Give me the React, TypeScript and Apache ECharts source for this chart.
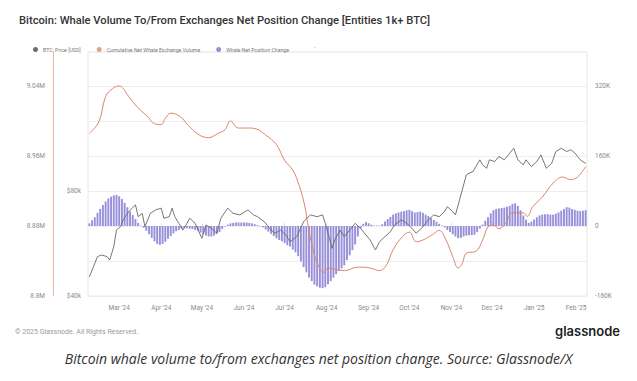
import React, { useEffect, useRef } from 'react';
import * as echarts from 'echarts';

const titleText = 'Bitcoin: Whale Volume To/From Exchanges Net Position Change [Entities 1k+ BTC]';
const footerText = '© 2025 Glassnode. All Rights Reserved.';
const brandText = 'glassnode';
const captionText = 'Bitcoin whale volume to/from exchanges net position change. Source: Glassnode/X';
const seriesNames = ['BTC: Price [USD]', 'Cumulative Net Whale Exchange Volume', 'Whale Net Position Change'];

const xMinDate = '2024-02-07';
const xMaxDate = '2025-02-09';
const xTickDates = ['2024-03-01', '2024-04-01', '2024-05-01', '2024-06-01', '2024-07-01', '2024-08-01', '2024-09-01', '2024-10-01', '2024-11-01', '2024-12-01', '2025-01-01', '2025-02-01'];
const xTickLabels = ["Mar '24", "Apr '24", "May '24", "Jun '24", "Jul '24", "Aug '24", "Sep '24", "Oct '24", "Nov '24", "Dec '24", "Jan '25", "Feb '25"];
const priceTickValues = [40000, 80000];
const priceTickLabels = ['$40k', '$80k'];

const priceDates = [
  '2024-02-08', '2024-02-11', '2024-02-14', '2024-02-17', '2024-02-21', '2024-02-23', '2024-02-26', '2024-02-28',
  '2024-03-02', '2024-03-04', '2024-03-08', '2024-03-13', '2024-03-15', '2024-03-18', '2024-03-20', '2024-03-24', '2024-03-28',
  '2024-04-01', '2024-04-03', '2024-04-07', '2024-04-09', '2024-04-11', '2024-04-14', '2024-04-17', '2024-04-20', '2024-04-22', '2024-04-26',
  '2024-05-01', '2024-05-04', '2024-05-08', '2024-05-12', '2024-05-15', '2024-05-20', '2024-05-24', '2024-05-29',
  '2024-06-04', '2024-06-08', '2024-06-11', '2024-06-16', '2024-06-21', '2024-06-24', '2024-06-28',
  '2024-07-02', '2024-07-05', '2024-07-10', '2024-07-15', '2024-07-20', '2024-07-25', '2024-07-29', '2024-07-31',
  '2024-08-02', '2024-08-05', '2024-08-07', '2024-08-11', '2024-08-14', '2024-08-18', '2024-08-22', '2024-08-26', '2024-08-29',
  '2024-09-02', '2024-09-06', '2024-09-09', '2024-09-13', '2024-09-17', '2024-09-20', '2024-09-25', '2024-09-29',
  '2024-10-03', '2024-10-06', '2024-10-10', '2024-10-15', '2024-10-19', '2024-10-23', '2024-10-27', '2024-10-29',
  '2024-11-02', '2024-11-04', '2024-11-07', '2024-11-09', '2024-11-12', '2024-11-14', '2024-11-17', '2024-11-19', '2024-11-22', '2024-11-24', '2024-11-27', '2024-11-29',
  '2024-12-03', '2024-12-06', '2024-12-10', '2024-12-14', '2024-12-17', '2024-12-20', '2024-12-24', '2024-12-26', '2024-12-30',
  '2025-01-03', '2025-01-06', '2025-01-10', '2025-01-14', '2025-01-17', '2025-01-21', '2025-01-25', '2025-01-28', '2025-01-31',
  '2025-02-02', '2025-02-04', '2025-02-06', '2025-02-08',
];
const priceValues = [
  45400, 48500, 51900, 52400, 51900, 50700, 55400, 61800,
  63200, 66100, 69800, 73000, 67500, 69000, 63200, 69000, 70600,
  71400, 66800, 67500, 71400, 67500, 64600, 61800, 64600, 66800, 64600,
  58500, 63900, 62500, 60500, 66800, 71400, 69000, 68300,
  70600, 68300, 67500, 65300, 61800, 60500, 61800,
  59800, 57200, 59200, 65300, 68300, 67500, 68300, 64600,
  60500, 54800, 57900, 61800, 59200, 61800, 64600, 62500, 60500,
  57900, 54200, 57200, 59200, 61100, 63900, 66100, 64600,
  62500, 60500, 62500, 66100, 68300, 67500, 69800, 72100,
  69800, 68300, 75400, 80500, 88900, 89900, 90900, 93900, 98200, 95000, 92900, 98200,
  97100, 100400, 98200, 102600, 106000, 98200, 95000, 98200, 93900,
  97100, 101500, 92900, 96000, 103700, 106000, 103700, 105000, 102800,
  100400, 98200, 97000, 96000,
];

const cumDates = [
  '2024-02-08', '2024-02-15', '2024-02-20', '2024-02-25', '2024-03-01', '2024-03-04', '2024-03-08', '2024-03-15', '2024-03-22', '2024-03-27',
  '2024-04-01', '2024-04-04', '2024-04-08', '2024-04-15', '2024-04-21', '2024-04-28',
  '2024-05-06', '2024-05-13', '2024-05-18', '2024-05-22', '2024-05-28',
  '2024-06-04', '2024-06-10', '2024-06-17', '2024-06-25',
  '2024-07-01', '2024-07-07', '2024-07-12', '2024-07-16', '2024-07-18', '2024-07-22', '2024-07-26', '2024-07-30',
  '2024-08-02', '2024-08-09', '2024-08-14', '2024-08-24',
  '2024-09-02', '2024-09-09', '2024-09-14', '2024-09-19', '2024-09-26',
  '2024-10-01', '2024-10-06', '2024-10-11', '2024-10-18', '2024-10-23', '2024-10-28',
  '2024-11-02', '2024-11-06', '2024-11-09', '2024-11-12', '2024-11-19', '2024-11-24', '2024-11-28',
  '2024-12-02', '2024-12-06', '2024-12-11', '2024-12-16', '2024-12-24', '2024-12-27', '2024-12-31',
  '2025-01-07', '2025-01-15', '2025-01-22', '2025-01-28', '2025-02-02', '2025-02-08',
];
const cumValuesM = [
  8.986, 8.999, 9.028, 9.037, 9.040, 9.037, 9.028, 9.015, 9.005, 8.997,
  8.996, 9.003, 9.009, 9.005, 8.995, 8.985,
  8.981, 8.986, 8.990, 9.000, 8.992,
  8.992, 8.991, 8.984, 8.973,
  8.955, 8.944, 8.925, 8.902, 8.883, 8.853, 8.834, 8.827,
  8.832, 8.830, 8.829, 8.833,
  8.832, 8.829, 8.835, 8.853, 8.868,
  8.873, 8.862, 8.864, 8.870, 8.875, 8.864,
  8.845, 8.832, 8.837, 8.849, 8.851, 8.864, 8.879,
  8.881, 8.877, 8.883, 8.895, 8.895, 8.891, 8.902,
  8.913, 8.929, 8.936, 8.933, 8.936, 8.948,
];

const netStartDate = '2024-02-08';
const netStepDays = 2;
const netValuesK = [
  6, 13, 20, 30, 39, 48, 56, 63, 67, 70, 71, 68, 62, 53, 43, 33, 25, 16, 7, 1,
  -4, -11, -19, -27, -35, -41, -43, -41, -36, -29, -23, -17, -12, -9, -6, -5, -5, -6, -7, -9,
  -11, -15, -19, -22, -24, -24, -22, -18, -14, -7, -1, 3, 6, 7, 8, 8, 8, 8, 8, 7,
  6, 4, 2, -1, -3, -8, -13, -18, -23, -28, -32, -35, -39, -44, -47, -54, -60, -69, -81, -94,
  -106, -118, -126, -134, -138, -141, -142, -140, -133, -126, -118, -110, -103, -97, -90, -78, -67, -55, -42, -24,
  -6, 5, 9, 6, 3, 1, 1, 1, 4, 10, 16, 21, 26, 29, 31, 33, 34, 36, 37, 34,
  31, 32, 33, 30, 26, 23, 18, 14, 10, 5, 1, -3, -9, -14, -19, -24, -28, -27, -24, -22,
  -21, -21, -20, -14, -6, 3, 12, 20, 29, 36, 39, 40, 41, 42, 44, 46, 50, 52, 46, 36,
  24, 14, 7, 10, 15, 20, 24, 26, 27, 27, 26, 26, 28, 31, 35, 39, 43, 42, 39, 37,
  35, 34, 35, 36,
];

const ts = (s: string) => new Date(s + 'T00:00:00').getTime();

export default function App() {
  const ref = useRef<HTMLDivElement>(null);
  useEffect(() => {
    document.body.style.margin = '0';
    if (!ref.current) return;
    const chart = echarts.init(ref.current, undefined, { renderer: 'svg' });

    const start = ts(netStartDate);
    const netData = netValuesK.map((v, i) => {
      const d = new Date(start);
      d.setDate(d.getDate() + i * netStepDays);
      return [d.getTime(), v * 1000];
    });
    const priceData = priceDates.map((d, i) => [ts(d), priceValues[i]]);
    const cumData = cumDates.map((d, i) => [ts(d), cumValuesM[i] * 1e6]);
    const tickTs = xTickDates.map(ts);

    const axisFont = { fontSize: 6.5, color: '#8a8a8a', fontFamily: 'Roboto, sans-serif' };

    chart.setOption({
      animation: false,
      backgroundColor: '#ffffff',
      textStyle: { fontFamily: 'Roboto, sans-serif' },
      title: {
        text: titleText,
        left: 14,
        top: 10,
        textStyle: { fontSize: 11.2, fontWeight: 500, color: '#333333', fontFamily: 'Roboto, sans-serif' },
      },
      legend: {
        data: seriesNames,
        left: 28,
        top: 42,
        icon: 'circle',
        itemWidth: 5,
        itemHeight: 5,
        itemGap: 16,
        textStyle: { fontSize: 5.2, color: '#777777', fontFamily: 'Roboto, sans-serif' },
      },
      grid: {
        left: 88,
        right: 50,
        top: 52,
        bottom: 85,
        show: true,
        borderColor: '#e6e6e6',
        borderWidth: 1,
      },
      xAxis: {
        type: 'value',
        min: ts(xMinDate),
        max: ts(xMaxDate),
        axisLine: { show: false },
        axisTick: { show: true, inside: true, length: 3, lineStyle: { color: '#e2e2e2' }, customValues: tickTs },
        axisLabel: {
          ...axisFont,
          margin: 8,
          customValues: tickTs,
          formatter: (v: number) => {
            const idx = tickTs.findIndex((t) => Math.abs(t - v) < 3600000 * 3);
            return idx >= 0 ? xTickLabels[idx] : '';
          },
        },
        splitLine: { show: false },
      },
      yAxis: [
        {
          type: 'value',
          position: 'right',
          min: -160000,
          max: 397700,
          interval: 80000,
          axisLine: { show: false },
          axisTick: { show: false },
          splitLine: { show: true, lineStyle: { color: '#eeeeee', width: 1 } },
          axisLabel: {
            ...axisFont,
            margin: 8,
            showMaxLabel: false,
            formatter: (v: number) => {
              if (Math.abs(v) < 1) return '0';
              if (Math.abs(v % 160000) < 1) return `${Math.round(v / 1000)}K`;
              return '';
            },
          },
        },
        {
          type: 'value',
          position: 'left',
          offset: 35,
          min: 8800000,
          max: 9078900,
          interval: 40000,
          axisLine: { show: true, lineStyle: { color: '#eab6a3', width: 1 } },
          axisTick: { show: false },
          splitLine: { show: false },
          axisLabel: {
            ...axisFont,
            margin: 8,
            showMaxLabel: false,
            formatter: (v: number) => {
              const k = (v - 8800000) / 80000;
              if (Math.abs(k - Math.round(k)) > 0.001) return '';
              return `${parseFloat((v / 1e6).toFixed(2))}M`;
            },
          },
        },
        {
          type: 'log',
          position: 'left',
          min: 40000,
          max: 200000,
          logBase: 2,
          axisLine: { show: false },
          axisTick: { show: false },
          splitLine: { show: false },
          axisLabel: {
            ...axisFont,
            margin: 7,
            customValues: priceTickValues,
            formatter: (v: number) => {
              const idx = priceTickValues.findIndex((p) => Math.abs(p - v) < 1);
              return idx >= 0 ? priceTickLabels[idx] : '';
            },
          },
        },
      ],
      series: [
        {
          name: seriesNames[2],
          type: 'bar',
          yAxisIndex: 0,
          data: netData,
          barWidth: 1.9,
          itemStyle: { color: '#978fd9' },
          z: 1,
        },
        {
          name: seriesNames[1],
          type: 'line',
          yAxisIndex: 1,
          data: cumData,
          showSymbol: false,
          smooth: 0.4,
          lineStyle: { color: '#d9866b', width: 1 },
          itemStyle: { color: '#e3a48f' },
          z: 3,
        },
        {
          name: seriesNames[0],
          type: 'line',
          yAxisIndex: 2,
          data: priceData,
          showSymbol: false,
          lineStyle: { color: '#666666', width: 0.9 },
          itemStyle: { color: '#6e6e6e' },
          z: 4,
        },
      ],
      graphic: [
        { type: 'text', left: 314, top: 43, style: { text: '-', fontSize: 6, fill: '#aaaaaa', fontFamily: 'Roboto, sans-serif' } },
        { type: 'text', left: 15, top: 328, style: { text: footerText, fontSize: 7, fill: '#9a9a9a', fontFamily: 'Roboto, sans-serif' } },
        { type: 'text', right: 17, top: 324, style: { text: brandText, fontSize: 13, fontWeight: 600, fill: '#222222', fontFamily: 'Inter, sans-serif' } },
        { type: 'text', left: 'center', top: 351, style: { text: captionText, fontSize: 14, fontStyle: 'italic', fill: '#333333', fontFamily: '"Open Sans", sans-serif' } },
      ],
    });

    return () => chart.dispose();
  }, []);

  return <div ref={ref} style={{ width: 637, height: 381 }} />;
}
